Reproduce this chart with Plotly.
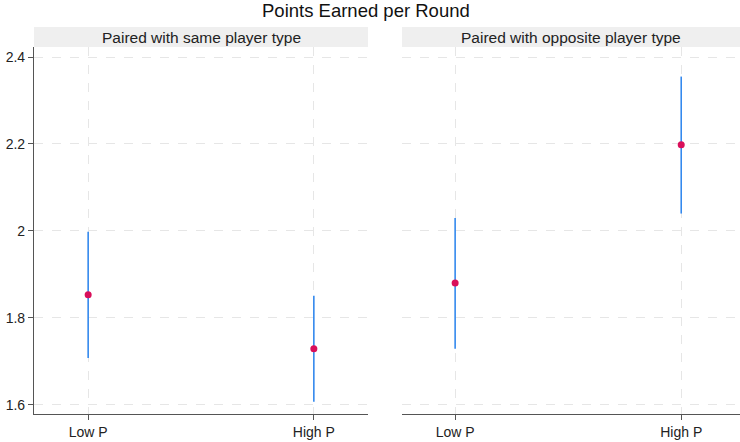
import plotly.graph_objects as go

categories = ["Low P", "High P"]
panels = ["Paired with same player type", "Paired with opposite player type"]
same_mean = [1.853, 1.729]
same_lower = [1.708, 1.607]
same_upper = [1.998, 1.851]
opp_mean = [1.880, 2.198]
opp_lower = [1.729, 2.040]
opp_upper = [2.030, 2.355]
y_ticks = [1.6, 1.8, 2.0, 2.2, 2.4]
y_tick_labels = ["1.6", "1.8", "2", "2.2", "2.4"]

W, H = 740, 442
ML, MR, MT, MB = 34, 0, 47, 28
pw = W - ML - MR
ph = H - MT - MB

fig = go.Figure()
xs = [0, 1]
series = [(same_mean, same_lower, same_upper, "x", "y"),
          (opp_mean, opp_lower, opp_upper, "x2", "y2")]
for mean, lo, hi, xa, ya in series:
    for i in range(len(xs)):
        fig.add_trace(go.Scatter(x=[xs[i], xs[i]], y=[lo[i], hi[i]], mode="lines",
                                 line=dict(color="#3489EE", width=1.6),
                                 xaxis=xa, yaxis=ya, showlegend=False, hoverinfo="skip"))
    fig.add_trace(go.Scatter(x=xs, y=mean, mode="markers",
                             marker=dict(color="#D90F5A", size=7),
                             xaxis=xa, yaxis=ya, showlegend=False))

d1 = [0, (368 - ML) / pw]
d2 = [(402 - ML) / pw, 1]
xcommon = dict(tickvals=xs, ticktext=categories,
               showgrid=True, gridcolor="#e6e6e6", griddash="dash", gridwidth=1,
               showline=True, linecolor="#555555", linewidth=1.2,
               ticks="outside", ticklen=5, tickcolor="#555555",
               zeroline=False, fixedrange=True,
               tickfont=dict(family="Arial", size=14, color="#222222"))
ycommon = dict(range=[1.579, 2.423], tickvals=y_ticks,
               showgrid=True, gridcolor="#e6e6e6", griddash="dash", gridwidth=1,
               zeroline=False, fixedrange=True,
               tickfont=dict(family="Arial", size=14, color="#222222"))

fig.update_layout(
    width=W, height=H,
    margin=dict(l=ML, r=MR, t=MT, b=MB),
    paper_bgcolor="white", plot_bgcolor="white",
    xaxis=dict(domain=d1, anchor="y", range=[-0.24, 1.24], **xcommon),
    xaxis2=dict(domain=d2, anchor="y2", range=[-0.235, 1.26], **xcommon),
    yaxis=dict(domain=[0, 1], anchor="x", ticktext=y_tick_labels,
               showline=True, linecolor="#555555", linewidth=1.2,
               ticks="outside", ticklen=5, tickcolor="#555555", **ycommon),
    yaxis2=dict(domain=[0, 1], anchor="x2", showticklabels=False,
                showline=False, ticks="", **ycommon),
)

hh = 20 / ph
for dom, txt in zip([d1, d2], panels):
    fig.add_shape(type="rect", xref="paper", yref="paper",
                  x0=dom[0], x1=dom[1], y0=1, y1=1 + hh,
                  fillcolor="#efefef", line=dict(width=0), layer="below")
    fig.add_annotation(xref="paper", yref="paper", x=(dom[0] + dom[1]) / 2,
                       y=1 + hh / 2, text=txt, showarrow=False,
                       xanchor="center", yanchor="middle",
                       font=dict(family="Arial", size=15.5, color="#222222"))

fig.add_annotation(xref="paper", yref="paper",
                   x=(366 - ML) / pw, y=1 + (MT - 11) / ph,
                   text="Points Earned per Round", showarrow=False,
                   xanchor="center", yanchor="middle",
                   font=dict(family="Arial", size=18.5, color="#111111"))

fig.write_html("out.html")
